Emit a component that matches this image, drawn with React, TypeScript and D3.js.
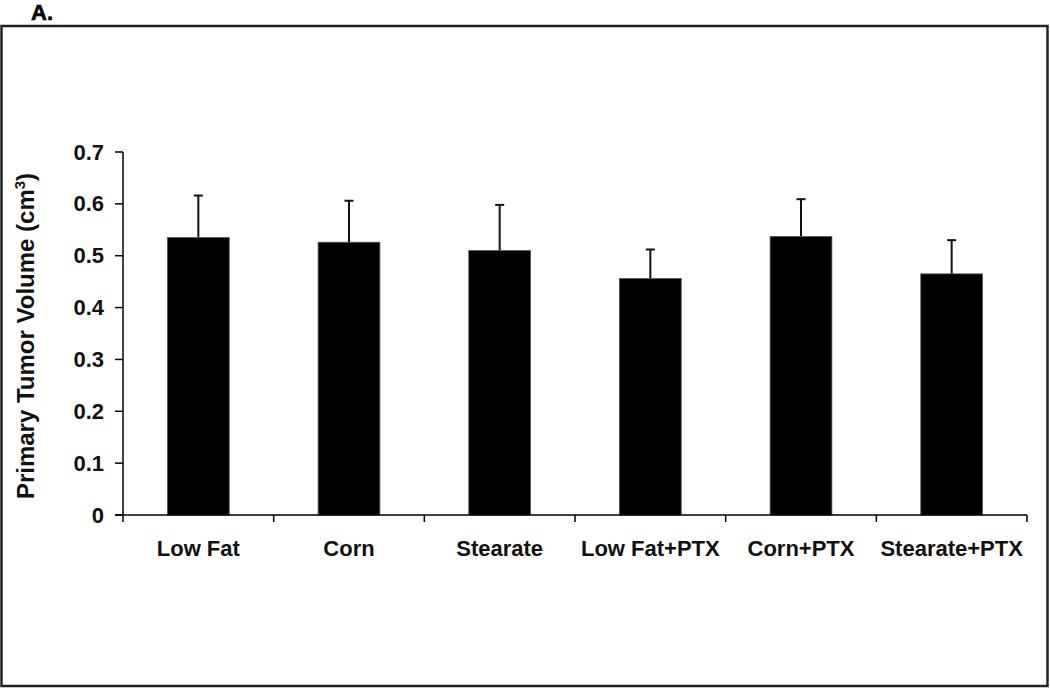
import * as d3 from "d3";

// values
const groups = ["Low Fat", "Corn", "Stearate", "Low Fat+PTX", "Corn+PTX", "Stearate+PTX"];
const means = [0.535, 0.526, 0.51, 0.456, 0.537, 0.465];
const errTops = [0.616, 0.606, 0.598, 0.512, 0.609, 0.53];
const yTicks = [0, 0.1, 0.2, 0.3, 0.4, 0.5, 0.6, 0.7];

export default function App() {
  const width = 1050;
  const height = 688;
  const left = 123;
  const right = 1027;
  const top = 152;
  const bottom = 515;
  const font = "'Liberation Sans', Arial, sans-serif";

  const xScale = d3.scaleBand().domain(groups).range([left, right]).paddingInner(0).paddingOuter(0);
  const yScale = d3.scaleLinear().domain([0, 0.7]).range([bottom, top]);
  const barWidth = xScale.bandwidth() * 0.41;
  const capHalf = 4.5;

  const xTickPos = groups.map((g) => xScale(g)).concat([right]);

  return (
    <svg width={width} height={height} style={{ position: "absolute", left: 0, top: 0 }}>
      <rect x={0} y={0} width={width} height={height} fill="#fff" />
      <text x={31} y={20} fontFamily={font} fontWeight="bold" fontSize={22} fill="#000" stroke="#000" strokeWidth={0.6}>
        A.
      </text>
      <rect x={1.5} y={26} width={1046} height={660} fill="none" stroke="#222" strokeWidth={2.5} />

      {/* bars */}
      {groups.map((g, i) => {
        const cx = xScale(g) + xScale.bandwidth() / 2;
        return (
          <g key={g}>
            <line x1={cx} x2={cx} y1={yScale(means[i])} y2={yScale(errTops[i])} stroke="#111" strokeWidth={2} />
            <line x1={cx - capHalf} x2={cx + capHalf} y1={yScale(errTops[i])} y2={yScale(errTops[i])} stroke="#111" strokeWidth={2} />
            <rect
              x={cx - barWidth / 2}
              y={yScale(means[i])}
              width={barWidth}
              height={bottom - yScale(means[i])}
              fill="#000"
              stroke="#555"
              strokeWidth={0.8}
            />
          </g>
        );
      })}

      {/* y axis */}
      <line x1={left} x2={left} y1={top} y2={bottom} stroke="#000" strokeWidth={1.5} />
      {yTicks.map((t) => (
        <g key={t}>
          <line x1={left - 8} x2={left} y1={yScale(t)} y2={yScale(t)} stroke="#000" strokeWidth={1.5} />
          <text
            x={104}
            y={yScale(t)}
            textAnchor="end"
            dominantBaseline="central"
            fontFamily={font}
            fontWeight="bold"
            fontSize={22}
            fill="#111"
          >
            {t === 0 ? "0" : d3.format(".1f")(t)}
          </text>
        </g>
      ))}

      {/* x axis */}
      <line x1={left - 8} x2={right} y1={bottom} y2={bottom} stroke="#000" strokeWidth={1.5} />
      {xTickPos.map((x, i) => (
        <line key={i} x1={x} x2={x} y1={bottom} y2={bottom + 7} stroke="#000" strokeWidth={1.5} />
      ))}
      {groups.map((g) => (
        <text
          key={g}
          x={xScale(g) + xScale.bandwidth() / 2}
          y={556}
          textAnchor="middle"
          fontFamily={font}
          fontWeight="bold"
          fontSize={22}
          fill="#111"
        >
          {g}
        </text>
      ))}

      <text
        transform={`translate(34, ${336}) rotate(-90)`}
        textAnchor="middle"
        fontFamily={font}
        fontWeight="bold"
        fontSize={24}
        fill="#111"
      >
        Primary Tumor Volume (cm<tspan fontSize={15} dy={-9}>3</tspan>
        <tspan dy={9}>)</tspan>
      </text>
    </svg>
  );
}
